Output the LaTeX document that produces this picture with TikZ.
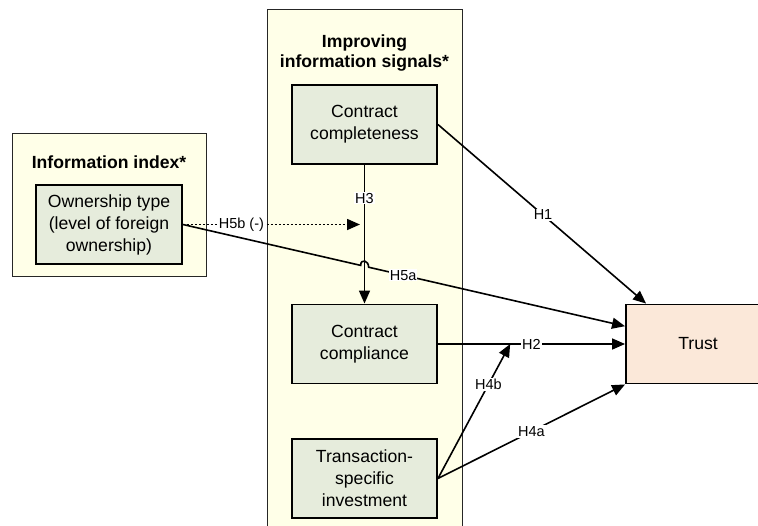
\documentclass[tikz,border=0pt]{standalone}
\usepackage{fontspec}
\setmainfont{Liberation Sans}
\usetikzlibrary{arrows.meta,calc}
\definecolor{outerfill}{HTML}{FFFFE8}
\definecolor{innerfill}{HTML}{E6ECDC}
\definecolor{trustfill}{HTML}{FBE8D9}
\begin{document}
\begin{tikzpicture}[x=1pt,y=-1pt,
  group/.style={draw=black!85, line width=0.9pt, fill=outerfill, inner sep=0pt},
  var/.style={draw=black, line width=1.9pt, fill=innerfill, minimum width=145pt, minimum height=79pt, align=center, inner sep=0pt, font=\fontsize{17.6}{22}\selectfont},
  conn/.style={line width=1.6pt, -{Triangle[length=13pt,width=11pt]}},
  lab/.style={fill=white, inner sep=1pt, font=\fontsize{14.5}{16}\selectfont},
  grouptitle/.style={align=center, font=\bfseries\fontsize{17.6}{20}\selectfont}]
\useasboundingbox (0,0) rectangle (758,525);
\clip (0,0) rectangle (758,525);
% group boxes
\node[group, minimum width=194pt, minimum height=143pt] (infobox) at (109,204.5) {};
\node[grouptitle] (infotitle) at (109,162) {Information index*};
\node[group, minimum width=195pt, minimum height=540pt] (impbox) at (364.5,279) {};
\node[grouptitle] (imptitle) at (364.5,53) {Improving\\information signals*};
% variables
\node[var, minimum width=146pt] (own) at (109,224.5) {Ownership type\\(level of foreign\\ownership)};
\node[var] (comp) at (364.5,124.5) {Contract\\completeness};
\node[var] (compl) at (364.5,344) {Contract\\compliance};
\node[var] (tsi) at (364.5,478.5) {Transaction-\\specific\\investment};
\node[var, fill=trustfill, minimum width=144pt] (trust) at (698,344) {Trust};
% helper coordinates
\coordinate (h5aend) at ($(trust.north west)!0.28!(trust.south west)$);
\coordinate (h1end) at ($(trust.north west)+(21,0)$);
\coordinate (h4bend) at ($(compl.east)!0.386!(trust.west)$);
\coordinate (h5btip) at (360,224.5);
\coordinate (hopl) at ($(own.east)!0.402!(h5aend)$);
\coordinate (hopr) at ($(own.east)!0.420!(h5aend)$);
% H3
\draw[conn] (comp.south) -- node[lab, pos=0.24] {H3} (compl.north);
% H5b
\draw[line width=1.6pt, dash pattern=on 2pt off 2pt, -{Triangle[length=13pt,width=11pt]}] (own.east) -- node[lab, pos=0.33] {H5b (-)} (h5btip);
% H5a with hop
\draw[conn] (own.east) -- (hopl) .. controls +(0,-7) and +(0,-7) .. (hopr) -- (h5aend);
\node[lab] (h5alab) at ($(own.east)!0.498!(h5aend)$) {H5a};
% H1
\draw[conn] (comp.east) -- node[lab, pos=0.505] {H1} (h1end);
% H2
\draw[conn] (compl.east) -- node[lab, pos=0.5] {H2} (trust.west);
% H4b
\draw[conn] (tsi.east) -- node[lab, pos=0.7] {H4b} (h4bend);
% H4a
\draw[conn] (tsi.east) -- node[lab, pos=0.5] {H4a} (trust.south west);
\end{tikzpicture}
\end{document}
